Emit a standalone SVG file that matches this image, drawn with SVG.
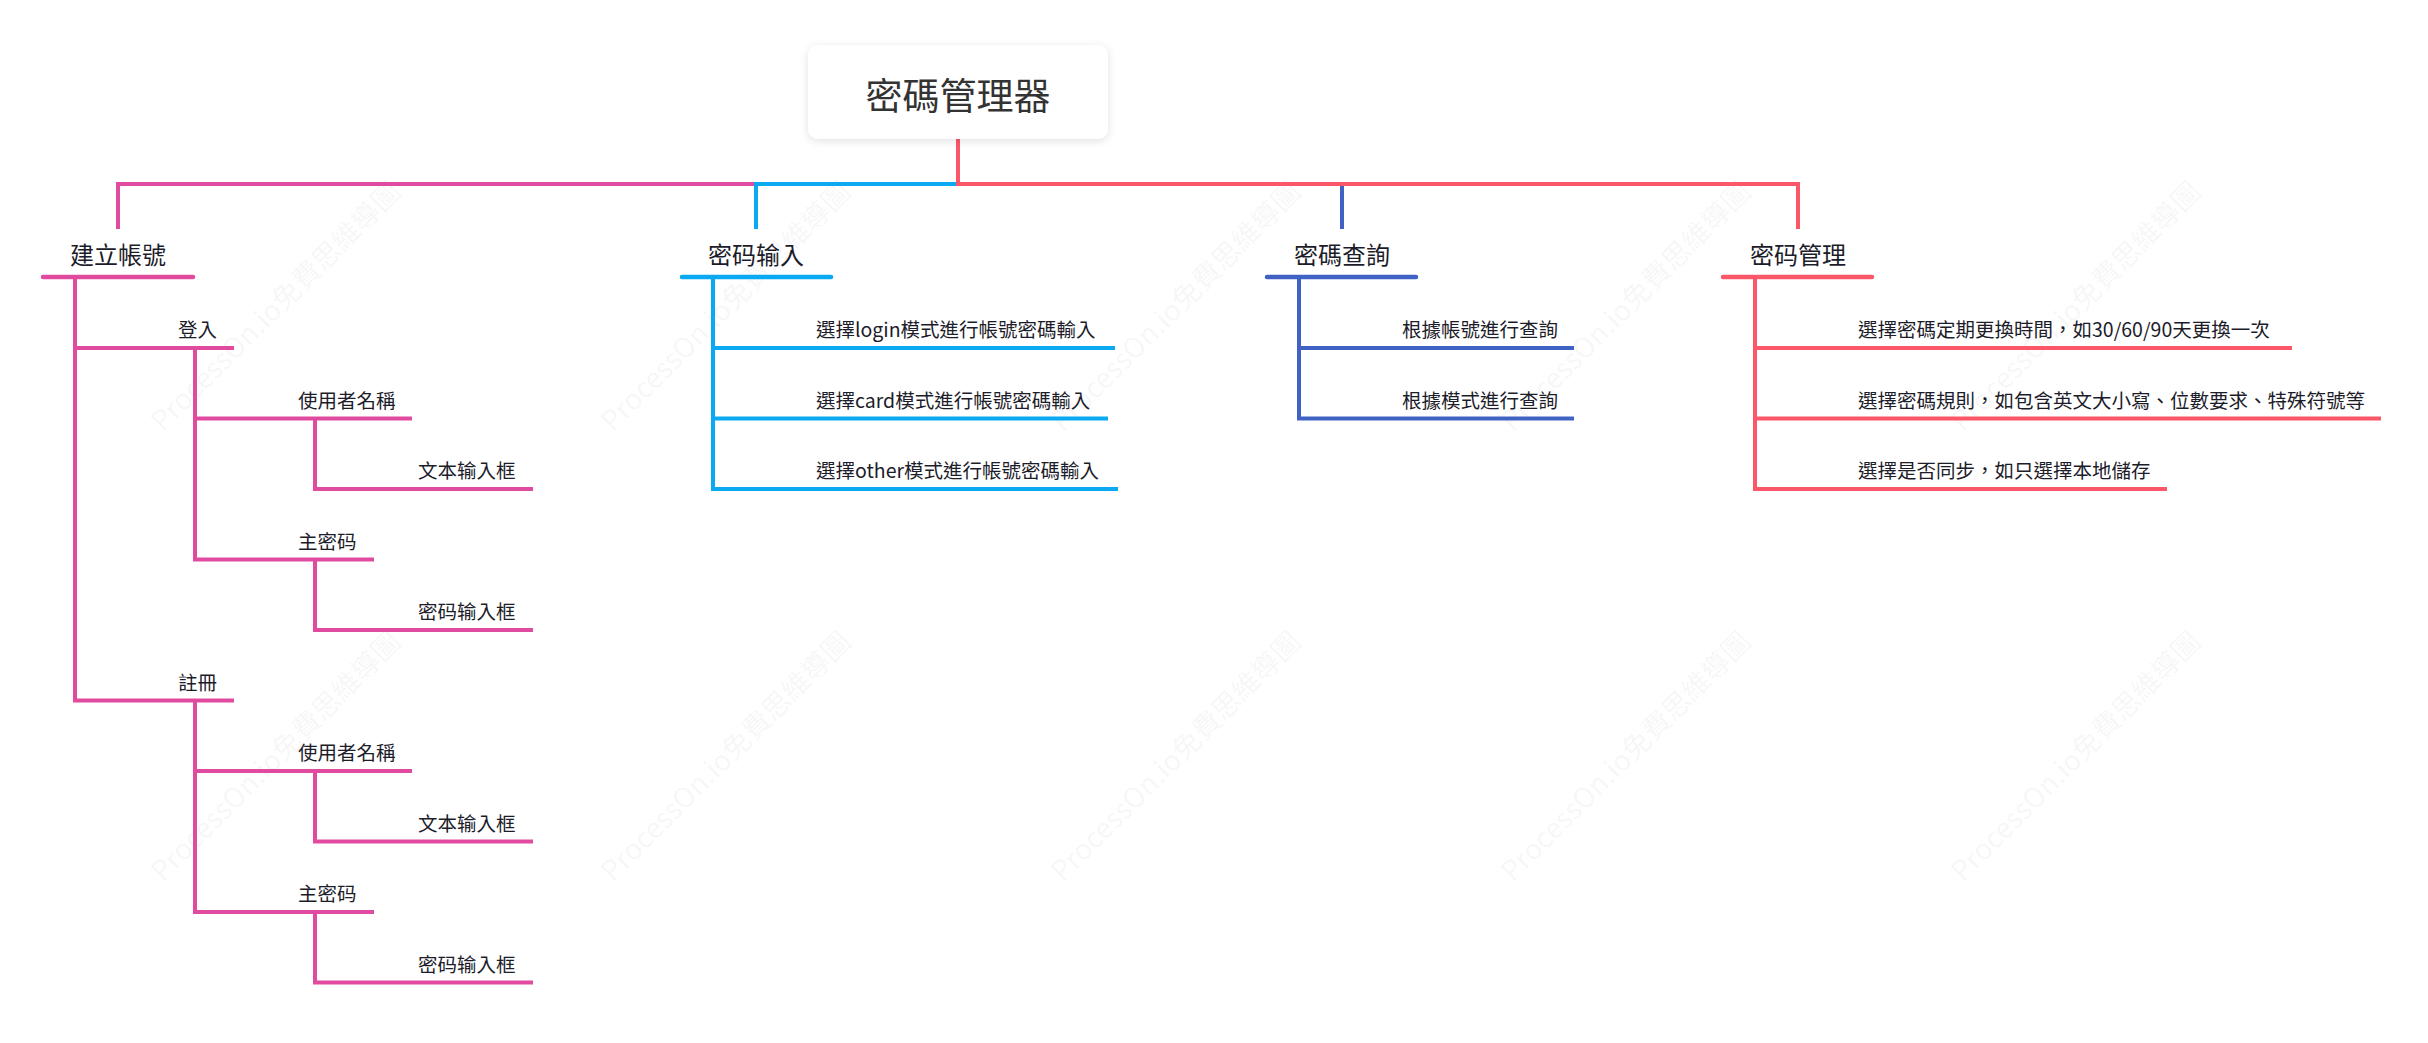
<svg xmlns="http://www.w3.org/2000/svg" width="2428" height="1043" viewBox="0 0 2428 1043">
<defs>
<filter id="sh" x="-20%" y="-30%" width="140%" height="160%">
<feDropShadow dx="0" dy="2" stdDeviation="4" flood-color="#000" flood-opacity="0.12"/>
</filter>
<style>
text{font-family:"Noto Sans CJK TC","Noto Sans CJK SC","Noto Sans",sans-serif;}
.wm{font-size:28px;fill:#000;fill-opacity:0.055;}
.root{font-size:37px;fill:#333;text-anchor:middle;}
.l1{font-size:24px;fill:#1c1c2a;text-anchor:middle;}
.l2{font-size:19.5px;fill:#1c1c2a;}
.c{fill:none;stroke-width:4;stroke-linejoin:miter;}
.u{fill:none;stroke-width:4.5;stroke-linecap:round;}
.pk{stroke:#E14B9F;}
.bl{stroke:#0AA9F1;}
.db{stroke:#4062C4;}
.rd{stroke:#FC5769;}
</style>
</defs>
<rect width="2428" height="1043" fill="#fff"/>
<g id="watermarks">
<text class="wm" transform="translate(163,433) rotate(-45)">ProcessOn.io免費思維導圖</text>
<text class="wm" transform="translate(613,433) rotate(-45)">ProcessOn.io免費思維導圖</text>
<text class="wm" transform="translate(1063,433) rotate(-45)">ProcessOn.io免費思維導圖</text>
<text class="wm" transform="translate(1513,433) rotate(-45)">ProcessOn.io免費思維導圖</text>
<text class="wm" transform="translate(1963,433) rotate(-45)">ProcessOn.io免費思維導圖</text>
<text class="wm" transform="translate(163,883) rotate(-45)">ProcessOn.io免費思維導圖</text>
<text class="wm" transform="translate(613,883) rotate(-45)">ProcessOn.io免費思維導圖</text>
<text class="wm" transform="translate(1063,883) rotate(-45)">ProcessOn.io免費思維導圖</text>
<text class="wm" transform="translate(1513,883) rotate(-45)">ProcessOn.io免費思維導圖</text>
<text class="wm" transform="translate(1963,883) rotate(-45)">ProcessOn.io免費思維導圖</text>
</g>
<g id="connectors">
<path class="c pk" d="M958 139 V184 H118 V229"/>
<path class="c bl" d="M958 139 V184 H756 V229"/>
<path class="c db" d="M958 139 V184 H1342 V229"/>
<path class="c rd" d="M958 139 V184 H1798 V229"/>
<path class="c pk" d="M75 277 V700.5 H234"/>
<path class="c pk" d="M75 348 H234"/>
<path class="c pk" d="M195 348 V559.5 H374"/>
<path class="c pk" d="M195 418.5 H412"/>
<path class="c pk" d="M315 418.5 V489 H533"/>
<path class="c pk" d="M315 559.5 V630 H533"/>
<path class="c pk" d="M195 700.5 V912 H374"/>
<path class="c pk" d="M195 771 H412"/>
<path class="c pk" d="M315 771 V841.5 H533"/>
<path class="c pk" d="M315 912 V982.5 H533"/>
<path class="c bl" d="M713 277 V489 H1118"/>
<path class="c bl" d="M713 348 H1115"/>
<path class="c bl" d="M713 418.5 H1108"/>
<path class="c db" d="M1299 277 V418.5 H1574"/>
<path class="c db" d="M1299 348 H1574"/>
<path class="c rd" d="M1755 277 V489 H2167"/>
<path class="c rd" d="M1755 348 H2292"/>
<path class="c rd" d="M1755 418.5 H2381"/>
</g>
<g id="root">
<rect x="808" y="45" width="300" height="94" rx="10" fill="#fff" filter="url(#sh)"/>
<text class="root" x="958" y="110">密碼管理器</text>
</g>
<g id="n-jianli">
<line class="u pk" x1="43" y1="277" x2="193" y2="277"/>
<text class="l1" x="118" y="264">建立帳號</text>
</g>
<g id="n-mimashuru">
<line class="u bl" x1="682" y1="277" x2="831" y2="277"/>
<text class="l1" x="756" y="264">密码输入</text>
</g>
<g id="n-chaxun">
<line class="u db" x1="1267" y1="277" x2="1416" y2="277"/>
<text class="l1" x="1342" y="264">密碼查詢</text>
</g>
<g id="n-guanli">
<line class="u rd" x1="1723" y1="277" x2="1872" y2="277"/>
<text class="l1" x="1798" y="264">密码管理</text>
</g>
<g id="n-denglu"><text class="l2" x="178" y="337">登入</text></g>
<g id="n-denglu-user"><text class="l2" x="298" y="407.5">使用者名稱</text></g>
<g id="n-denglu-user-box"><text class="l2" x="418" y="478">文本输入框</text></g>
<g id="n-denglu-pw"><text class="l2" x="298" y="548.5">主密码</text></g>
<g id="n-denglu-pw-box"><text class="l2" x="418" y="619">密码输入框</text></g>
<g id="n-zhuce"><text class="l2" x="178" y="689.5">註冊</text></g>
<g id="n-zhuce-user"><text class="l2" x="298" y="760">使用者名稱</text></g>
<g id="n-zhuce-user-box"><text class="l2" x="418" y="830.5">文本输入框</text></g>
<g id="n-zhuce-pw"><text class="l2" x="298" y="901">主密码</text></g>
<g id="n-zhuce-pw-box"><text class="l2" x="418" y="971.5">密码输入框</text></g>
<g id="n-login"><text class="l2" x="816" y="337">選擇login模式進行帳號密碼輸入</text></g>
<g id="n-card"><text class="l2" x="816" y="407.5">選擇card模式進行帳號密碼輸入</text></g>
<g id="n-other"><text class="l2" x="816" y="478">選擇other模式進行帳號密碼輸入</text></g>
<g id="n-q1"><text class="l2" x="1402" y="337">根據帳號進行查詢</text></g>
<g id="n-q2"><text class="l2" x="1402" y="407.5">根據模式進行查詢</text></g>
<g id="n-m1"><text class="l2" x="1858" y="337">選擇密碼定期更換時間，如30/60/90天更換一次</text></g>
<g id="n-m2"><text class="l2" x="1858" y="407.5">選擇密碼規則，如包含英文大小寫、位數要求、特殊符號等</text></g>
<g id="n-m3"><text class="l2" x="1858" y="478">選擇是否同步，如只選擇本地儲存</text></g>
</svg>
